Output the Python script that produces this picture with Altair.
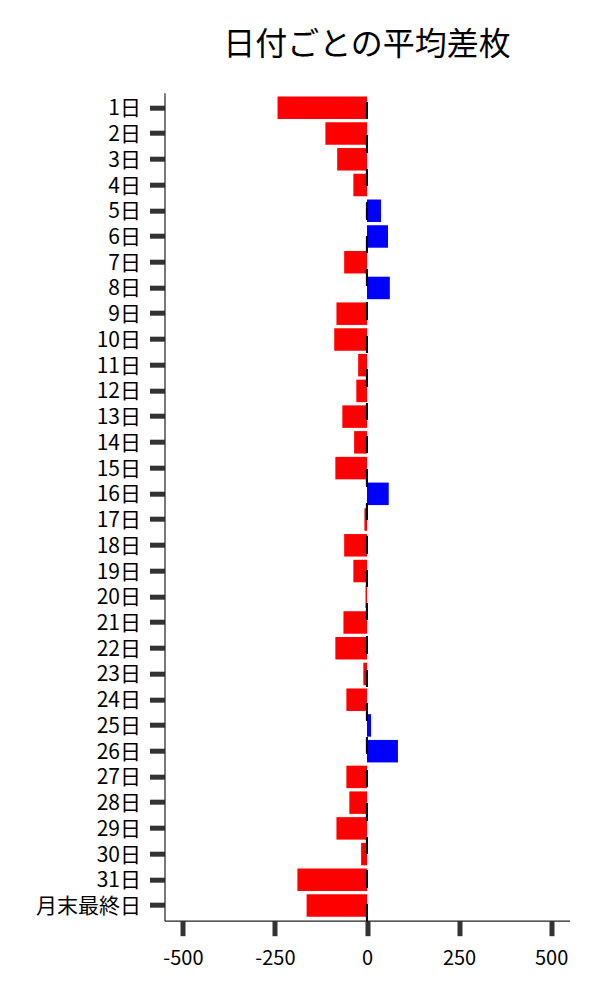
import altair as alt
import pandas as pd

days = [f"{i}日" for i in range(1, 32)] + ["月末最終日"]
values = [-243, -113, -81, -37, 38, 57, -62, 62, -83, -89, -24,
          -29, -67, -35, -86, 59, -7, -62, -37, -4, -64, -86, -10,
          -56, 11, 84, -56, -48, -83, -16, -189, -164]

df = pd.DataFrame({"day": days, "value": values})

W, H = 405, 828
FONT = "Noto Sans CJK JP"

bars = alt.Chart(df).mark_bar().encode(
    y=alt.Y("day:N", sort=days,
            scale=alt.Scale(paddingInner=0.126, paddingOuter=0.15),
            axis=alt.Axis(title=None, labelFontSize=21, labelFont=FONT,
                          labelColor="black", labelPadding=9, labelOffset=1.5,
                          tickSize=15, tickWidth=5, tickColor="#333333",
                          domainColor="#222222", domainWidth=1.2, grid=False)),
    x=alt.X("value:Q",
            scale=alt.Scale(domain=[-550, 550], nice=False, zero=False),
            axis=alt.Axis(title=None, values=[-500, -250, 0, 250, 500],
                          labelExpr="datum.value < 0 ? '-' + abs(datum.value) : '' + datum.value",
                          labelFontSize=20, labelFont=FONT, labelColor="black",
                          labelPadding=13, tickSize=15, tickWidth=5,
                          tickColor="#333333", domainColor="#222222",
                          domainWidth=1.2, grid=False)),
    color=alt.condition(alt.datum.value > 0, alt.value("#0000ff"), alt.value("#ff0000")),
)

rule = alt.Chart(df).mark_rule(color="black", strokeWidth=2,
                               strokeDash=[16.7, 16.7]).encode(
    x=alt.datum(0),
    y=alt.value(H),
    y2=alt.value(0),
)

chart = alt.layer(bars, rule).properties(
    width=W, height=H,
    title=alt.TitleParams("日付ごとの平均差枚", font=FONT, fontSize=32,
                          fontWeight="normal", color="black",
                          anchor="middle", offset=30),
    autosize=alt.AutoSizeParams(type="none"),
    padding={"left": 156.5, "top": 84.7, "right": 20, "bottom": 60},
).configure_view(strokeWidth=0)

chart.save("out.html", embed_options={"renderer": "svg", "actions": False})
